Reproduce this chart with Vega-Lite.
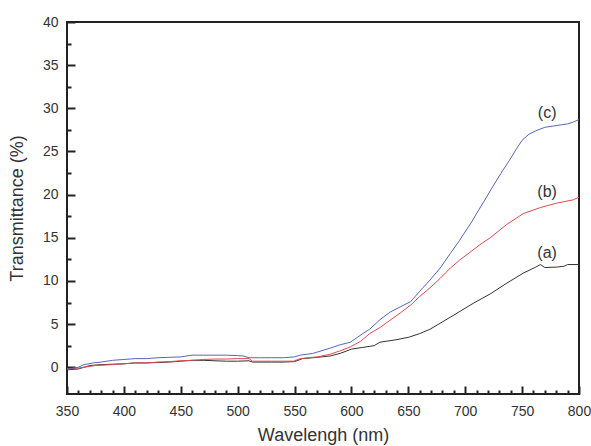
{
  "$schema": "https://vega.github.io/schema/vega-lite/v6.json",
  "width": 512,
  "height": 372,
  "autosize": "none",
  "padding": {"left": 67, "top": 22, "right": 12, "bottom": 52},
  "background": "white",
  "config": {
    "view": {"stroke": "#222222", "strokeWidth": 2},
    "font": "Liberation Sans",
    "axis": {"domain": false, "grid": false, "labelColor": "#333333", "titleColor": "#333333", "labelFont": "Liberation Sans", "titleFont": "Liberation Sans", "titleFontWeight": "normal", "tickColor": "#222222", "tickWidth": 2}
  },
  "datasets": {
    "curves": [
      {"s": "a", "w": 350, "t": -0.3}, {"s": "a", "w": 360, "t": -0.2}, {"s": "a", "w": 365, "t": 0.0}, {"s": "a", "w": 370, "t": 0.2}, {"s": "a", "w": 380, "t": 0.3}, {"s": "a", "w": 390, "t": 0.35}, {"s": "a", "w": 400, "t": 0.4}, {"s": "a", "w": 410, "t": 0.5}, {"s": "a", "w": 420, "t": 0.5}, {"s": "a", "w": 430, "t": 0.55}, {"s": "a", "w": 440, "t": 0.6}, {"s": "a", "w": 450, "t": 0.7}, {"s": "a", "w": 460, "t": 0.8}, {"s": "a", "w": 470, "t": 0.8}, {"s": "a", "w": 480, "t": 0.75}, {"s": "a", "w": 490, "t": 0.7}, {"s": "a", "w": 500, "t": 0.7}, {"s": "a", "w": 510, "t": 0.75}, {"s": "a", "w": 513, "t": 0.6}, {"s": "a", "w": 530, "t": 0.6}, {"s": "a", "w": 540, "t": 0.6}, {"s": "a", "w": 550, "t": 0.65}, {"s": "a", "w": 557, "t": 1.0}, {"s": "a", "w": 570, "t": 1.15}, {"s": "a", "w": 581, "t": 1.3}, {"s": "a", "w": 590, "t": 1.6}, {"s": "a", "w": 600, "t": 2.1}, {"s": "a", "w": 610, "t": 2.3}, {"s": "a", "w": 620, "t": 2.5}, {"s": "a", "w": 625, "t": 2.9}, {"s": "a", "w": 640, "t": 3.2}, {"s": "a", "w": 651, "t": 3.5}, {"s": "a", "w": 660, "t": 3.9}, {"s": "a", "w": 669, "t": 4.4}, {"s": "a", "w": 678, "t": 5.1}, {"s": "a", "w": 692, "t": 6.2}, {"s": "a", "w": 707, "t": 7.4}, {"s": "a", "w": 722, "t": 8.5}, {"s": "a", "w": 736, "t": 9.7}, {"s": "a", "w": 751, "t": 10.9}, {"s": "a", "w": 762, "t": 11.6}, {"s": "a", "w": 766, "t": 11.9}, {"s": "a", "w": 770, "t": 11.55}, {"s": "a", "w": 780, "t": 11.6}, {"s": "a", "w": 787, "t": 11.7}, {"s": "a", "w": 790, "t": 11.9}, {"s": "a", "w": 800, "t": 11.9},
      {"s": "b", "w": 350, "t": -0.2}, {"s": "b", "w": 360, "t": -0.1}, {"s": "b", "w": 365, "t": 0.0}, {"s": "b", "w": 375, "t": 0.2}, {"s": "b", "w": 390, "t": 0.3}, {"s": "b", "w": 400, "t": 0.4}, {"s": "b", "w": 410, "t": 0.5}, {"s": "b", "w": 420, "t": 0.5}, {"s": "b", "w": 430, "t": 0.6}, {"s": "b", "w": 440, "t": 0.65}, {"s": "b", "w": 450, "t": 0.75}, {"s": "b", "w": 460, "t": 0.8}, {"s": "b", "w": 470, "t": 0.9}, {"s": "b", "w": 480, "t": 0.95}, {"s": "b", "w": 490, "t": 0.95}, {"s": "b", "w": 500, "t": 1.0}, {"s": "b", "w": 510, "t": 1.0}, {"s": "b", "w": 513, "t": 0.7}, {"s": "b", "w": 530, "t": 0.7}, {"s": "b", "w": 540, "t": 0.7}, {"s": "b", "w": 549, "t": 0.7}, {"s": "b", "w": 555, "t": 1.0}, {"s": "b", "w": 570, "t": 1.2}, {"s": "b", "w": 581, "t": 1.5}, {"s": "b", "w": 590, "t": 1.9}, {"s": "b", "w": 599, "t": 2.35}, {"s": "b", "w": 608, "t": 3.0}, {"s": "b", "w": 616, "t": 3.9}, {"s": "b", "w": 625, "t": 4.6}, {"s": "b", "w": 634, "t": 5.45}, {"s": "b", "w": 643, "t": 6.3}, {"s": "b", "w": 652, "t": 7.2}, {"s": "b", "w": 660, "t": 8.2}, {"s": "b", "w": 669, "t": 9.2}, {"s": "b", "w": 678, "t": 10.3}, {"s": "b", "w": 687, "t": 11.5}, {"s": "b", "w": 695, "t": 12.4}, {"s": "b", "w": 704, "t": 13.3}, {"s": "b", "w": 714, "t": 14.3}, {"s": "b", "w": 722, "t": 15.0}, {"s": "b", "w": 736, "t": 16.5}, {"s": "b", "w": 751, "t": 17.8}, {"s": "b", "w": 766, "t": 18.5}, {"s": "b", "w": 780, "t": 19.0}, {"s": "b", "w": 795, "t": 19.4}, {"s": "b", "w": 800, "t": 19.7},
      {"s": "c", "w": 350, "t": -0.2}, {"s": "c", "w": 360, "t": 0.0}, {"s": "c", "w": 365, "t": 0.3}, {"s": "c", "w": 373, "t": 0.5}, {"s": "c", "w": 380, "t": 0.6}, {"s": "c", "w": 390, "t": 0.8}, {"s": "c", "w": 400, "t": 0.9}, {"s": "c", "w": 410, "t": 1.0}, {"s": "c", "w": 420, "t": 1.0}, {"s": "c", "w": 430, "t": 1.1}, {"s": "c", "w": 440, "t": 1.15}, {"s": "c", "w": 450, "t": 1.2}, {"s": "c", "w": 460, "t": 1.4}, {"s": "c", "w": 470, "t": 1.4}, {"s": "c", "w": 480, "t": 1.4}, {"s": "c", "w": 490, "t": 1.4}, {"s": "c", "w": 500, "t": 1.35}, {"s": "c", "w": 505, "t": 1.3}, {"s": "c", "w": 510, "t": 1.1}, {"s": "c", "w": 520, "t": 1.1}, {"s": "c", "w": 530, "t": 1.1}, {"s": "c", "w": 540, "t": 1.1}, {"s": "c", "w": 550, "t": 1.2}, {"s": "c", "w": 555, "t": 1.4}, {"s": "c", "w": 566, "t": 1.6}, {"s": "c", "w": 581, "t": 2.2}, {"s": "c", "w": 590, "t": 2.6}, {"s": "c", "w": 599, "t": 2.9}, {"s": "c", "w": 610, "t": 3.9}, {"s": "c", "w": 616, "t": 4.4}, {"s": "c", "w": 625, "t": 5.5}, {"s": "c", "w": 634, "t": 6.4}, {"s": "c", "w": 643, "t": 7.0}, {"s": "c", "w": 652, "t": 7.6}, {"s": "c", "w": 660, "t": 8.8}, {"s": "c", "w": 669, "t": 10.1}, {"s": "c", "w": 678, "t": 11.5}, {"s": "c", "w": 687, "t": 13.2}, {"s": "c", "w": 695, "t": 14.7}, {"s": "c", "w": 705, "t": 16.7}, {"s": "c", "w": 715, "t": 18.9}, {"s": "c", "w": 725, "t": 21.1}, {"s": "c", "w": 733, "t": 22.8}, {"s": "c", "w": 739, "t": 24.0}, {"s": "c", "w": 745, "t": 25.3}, {"s": "c", "w": 750, "t": 26.3}, {"s": "c", "w": 756, "t": 27.0}, {"s": "c", "w": 762, "t": 27.4}, {"s": "c", "w": 770, "t": 27.8}, {"s": "c", "w": 780, "t": 28.0}, {"s": "c", "w": 790, "t": 28.2}, {"s": "c", "w": 795, "t": 28.4}, {"s": "c", "w": 800, "t": 28.7}
    ],
    "labels": [
      {"s": "a", "w": 772, "t": 13.2, "label": "(a)"},
      {"s": "b", "w": 772, "t": 20.3, "label": "(b)"},
      {"s": "c", "w": 772, "t": 29.4, "label": "(c)"}
    ]
  },
  "resolve": {"axis": {"x": "independent", "y": "independent"}},
  "layer": [
    {
      "data": {"name": "curves"},
      "mark": {"type": "line", "strokeWidth": 1, "clip": true},
      "encoding": {
        "x": {
          "field": "w", "type": "quantitative",
          "scale": {"domain": [350, 800], "nice": false, "zero": false},
          "axis": {
            "orient": "bottom",
            "offset": -8,
            "title": "Wavelengh (nm)",
            "titleFontSize": 18,
            "titlePadding": 8,
            "labelFontSize": 14,
            "labelPadding": 10,
            "values": [350, 400, 450, 500, 550, 600, 650, 700, 750, 800],
            "tickSize": 8,
            "labelFlush": false,
            "labelOverlap": false
          }
        },
        "y": {
          "field": "t", "type": "quantitative",
          "scale": {"domain": [-3.1, 40], "nice": false, "zero": false},
          "axis": {
            "orient": "left",
            "offset": -8,
            "title": "Transmittance (%)",
            "titleFontSize": 18,
            "titlePadding": 16,
            "labelFontSize": 14,
            "labelPadding": 9,
            "values": [0, 5, 10, 15, 20, 25, 30, 35, 40],
            "tickSize": 8,
            "labelFlush": false,
            "labelOverlap": false
          }
        },
        "color": {
          "field": "s", "type": "nominal",
          "scale": {"domain": ["a", "b", "c"], "range": ["#333333", "#e0484e", "#5468b4"]},
          "legend": null
        }
      }
    },
    {
      "data": {"name": "labels"},
      "mark": {"type": "text", "fontSize": 16, "color": "#333333", "font": "Liberation Sans"},
      "encoding": {
        "x": {
          "field": "w", "type": "quantitative",
          "axis": {
            "orient": "bottom",
            "offset": -4,
            "title": null,
            "labels": false,
            "values": [360,370,380,390,410,420,430,440,460,470,480,490,510,520,530,540,560,570,580,590,610,620,630,640,660,670,680,690,710,720,730,740,760,770,780,790],
            "tickSize": 4
          }
        },
        "y": {
          "field": "t", "type": "quantitative",
          "axis": {
            "orient": "left",
            "offset": -4,
            "title": null,
            "labels": false,
            "values": [2.5, 7.5, 12.5, 17.5, 22.5, 27.5, 32.5, 37.5],
            "tickSize": 4
          }
        },
        "text": {"field": "label"}
      }
    }
  ]
}
